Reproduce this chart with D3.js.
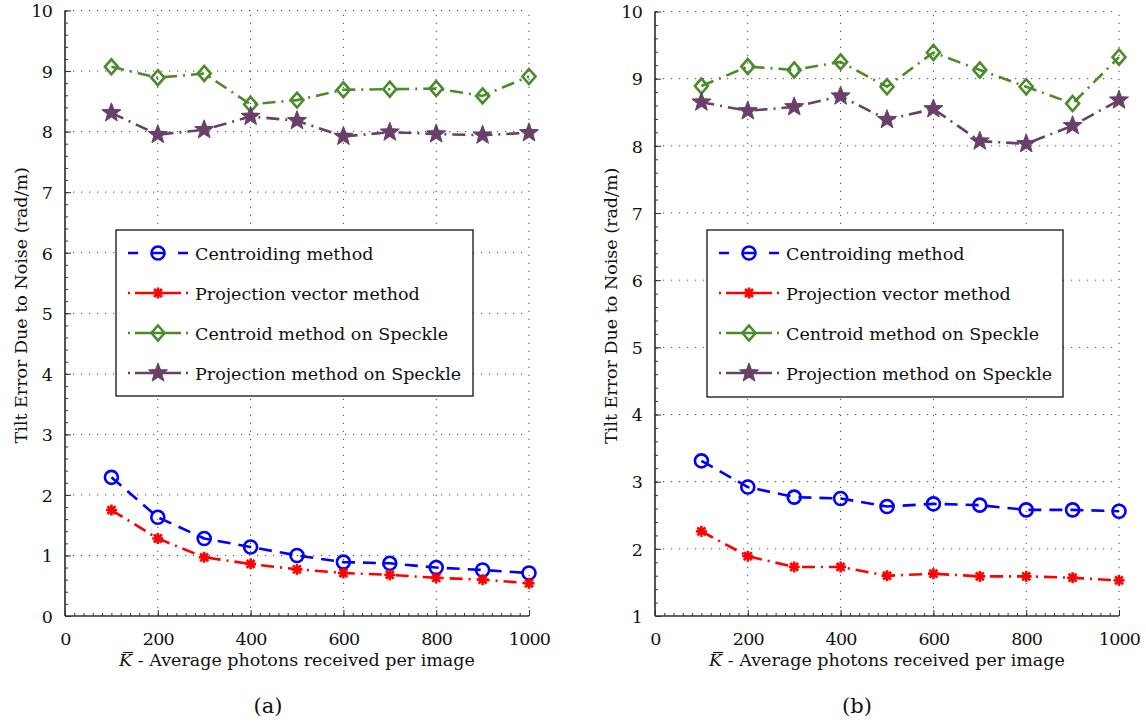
<!DOCTYPE html>
<html>
<head>
<meta charset="utf-8">
<script src="https://cdn.jsdelivr.net/npm/d3@7"></script>
<style>
  html, body { margin: 0; padding: 0; background: #fff; }
  svg { display: block; }
</style>
</head>
<body>
<svg id="chart" width="1146" height="727"></svg>
<script>
// Average photons received per image (x values shared by every series)
const photons = [100, 200, 300, 400, 500, 600, 700, 800, 900, 1000];
const xTicks = [0, 200, 400, 600, 800, 1000];

const seriesNames = [
  "Centroiding method",
  "Projection vector method",
  "Centroid method on Speckle",
  "Projection method on Speckle"
];

// Panel (a)
const centroidA          = [2.29, 1.63, 1.28, 1.14, 1.00, 0.89, 0.87, 0.80, 0.76, 0.71];
const projectionA        = [1.75, 1.28, 0.97, 0.86, 0.77, 0.71, 0.68, 0.63, 0.60, 0.54];
const centroidSpeckleA   = [9.07, 8.89, 8.96, 8.45, 8.52, 8.69, 8.70, 8.71, 8.59, 8.91];
const projectionSpeckleA = [8.31, 7.95, 8.03, 8.25, 8.18, 7.92, 7.99, 7.96, 7.94, 7.98];
const yTicksA = [0, 1, 2, 3, 4, 5, 6, 7, 8, 9, 10];

// Panel (b)
const centroidB          = [3.31, 2.92, 2.77, 2.75, 2.63, 2.67, 2.65, 2.58, 2.58, 2.56];
const projectionB        = [2.26, 1.89, 1.73, 1.73, 1.60, 1.63, 1.59, 1.59, 1.57, 1.53];
const centroidSpeckleB   = [8.89, 9.18, 9.13, 9.25, 8.88, 9.39, 9.13, 8.88, 8.63, 9.32];
const projectionSpeckleB = [8.65, 8.52, 8.58, 8.74, 8.39, 8.55, 8.07, 8.03, 8.30, 8.68];
const yTicksB = [1, 2, 3, 4, 5, 6, 7, 8, 9, 10];

const xTitle = "K - Average photons received per image";
const yTitle = "Tilt Error Due to Noise (rad/m)";

const FONT = '"DejaVu Serif", serif';

// Line / marker styling for the four series
const styles = [
  { color: "#0000ff", dash: "13,8",     marker: "circle",   legendDash: "10,14,12,14,10" },
  { color: "#ff0000", dash: "13,6,2,6", marker: "asterisk", legendDash: "2,5,46,5,2" },
  { color: "#4b8b2b", dash: "13,6,2,6", marker: "diamond",  legendDash: "2,5,46,5,2" },
  { color: "#684068", dash: "13,6,2,6", marker: "star",     legendDash: "2,5,46,5,2" }
];

const panels = [
  {
    caption: "(a)", left: 65, right: 529, top: 10.5, bottom: 616,
    yDomain: [0, 10], yTicks: yTicksA,
    series: [centroidA, projectionA, centroidSpeckleA, projectionSpeckleA],
    legend: { x: 116, y: 230, w: 357, h: 166 }, captionX: 268
  },
  {
    caption: "(b)", left: 655, right: 1119, top: 11.5, bottom: 616,
    yDomain: [1, 10], yTicks: yTicksB,
    series: [centroidB, projectionB, centroidSpeckleB, projectionSpeckleB],
    legend: { x: 707, y: 230, w: 356, h: 167 }, captionX: 857
  }
];

const svg = d3.select("#chart");
const axisColor = "#333";
const textColor = "#111";

function drawMarker(g, type, color) {
  if (type === "circle") {
    g.append("circle").attr("r", 6.5)
      .attr("fill", "none").attr("stroke", color).attr("stroke-width", 2.6);
  } else if (type === "asterisk") {
    const r = 5.5;
    [[r, 0], [0, r], [r * 0.72, r * 0.72], [r * 0.72, -r * 0.72]].forEach(([dx, dy]) => {
      g.append("line").attr("x1", -dx).attr("y1", -dy).attr("x2", dx).attr("y2", dy)
        .attr("stroke", color).attr("stroke-width", 2.6);
    });
    g.append("circle").attr("r", 3).attr("fill", color);
  } else if (type === "diamond") {
    const w = 6.5, h = 7.5;
    g.append("path").attr("d", `M0,${-h}L${w},0L0,${h}L${-w},0Z`)
      .attr("fill", "none").attr("stroke", color).attr("stroke-width", 2.6)
      .attr("stroke-linejoin", "miter");
  } else if (type === "star") {
    const outer = 10, inner = 4.2;
    const pts = d3.range(10).map(i => {
      const a = -Math.PI / 2 + i * Math.PI / 5;
      const r = i % 2 === 0 ? outer : inner;
      return [r * Math.cos(a), r * Math.sin(a)];
    });
    g.append("path").attr("d", d3.line()(pts) + "Z")
      .attr("fill", color).attr("stroke", color).attr("stroke-width", 1)
      .attr("stroke-linejoin", "round");
  }
}

panels.forEach(p => {
  const x = d3.scaleLinear().domain([0, 1000]).range([p.left, p.right]);
  const y = d3.scaleLinear().domain(p.yDomain).range([p.bottom, p.top]);
  const g = svg.append("g");

  // dotted grid at the major ticks
  const grid = g.append("g").attr("stroke", "#444").attr("stroke-width", 1)
    .attr("stroke-dasharray", "1.2,6.8");
  p.yTicks.filter(t => t !== p.yDomain[0]).forEach(t => {
    grid.append("line").attr("x1", p.left).attr("x2", p.right)
      .attr("y1", y(t)).attr("y2", y(t));
  });
  xTicks.filter(t => t !== 0).forEach(t => {
    grid.append("line").attr("x1", x(t)).attr("x2", x(t))
      .attr("y1", p.bottom).attr("y2", p.top);
  });

  // y axis with inward ticks and minor ticks
  const yAxis = d3.axisLeft(y).tickValues(p.yTicks).tickSize(-6).tickPadding(13)
    .tickFormat(d3.format("d"));
  const ya = g.append("g").attr("transform", `translate(${p.left},0)`).call(yAxis);
  const yMinor = d3.range(p.yDomain[0], p.yDomain[1] + 1e-9, 0.2);
  const yMinorAxis = d3.axisLeft(y).tickValues(yMinor).tickSize(-3).tickFormat("");
  const yma = g.append("g").attr("transform", `translate(${p.left},0)`).call(yMinorAxis);

  // x axis with inward ticks and minor ticks
  const xAxis = d3.axisBottom(x).tickValues(xTicks).tickSize(-6).tickPadding(16)
    .tickFormat(d3.format("d"));
  const xa = g.append("g").attr("transform", `translate(0,${p.bottom})`).call(xAxis);
  const xMinor = d3.range(0, 1001, 20);
  const xMinorAxis = d3.axisBottom(x).tickValues(xMinor).tickSize(-3).tickFormat("");
  const xma = g.append("g").attr("transform", `translate(0,${p.bottom})`).call(xMinorAxis);

  [ya, yma, xa, xma].forEach(a => {
    a.attr("font-family", null).attr("font-size", null);
    a.select(".domain").attr("stroke", axisColor).attr("stroke-width", 1.2)
      .attr("d", a === ya || a === yma
        ? `M0,${p.bottom}V${p.top}` : `M${p.left},0H${p.right}`);
    a.selectAll(".tick line").attr("stroke", axisColor).attr("stroke-width", 1);
    a.selectAll(".tick text").attr("fill", textColor)
      .style("font-family", FONT).style("font-size", "17.5px")
      .style("letter-spacing", "-0.8px");
  });
  ya.selectAll(".tick text").attr("dy", "0.36em");
  xa.selectAll(".tick text").attr("dy", "0.72em");

  // series lines and markers
  p.series.forEach((vals, i) => {
    const s = styles[i];
    const pts = photons.map((k, j) => [x(k), y(vals[j])]);
    g.append("path").attr("d", d3.line()(pts)).attr("fill", "none")
      .attr("stroke", s.color).attr("stroke-width", 2.6)
      .attr("stroke-dasharray", s.dash).attr("stroke-linejoin", "round");
    pts.forEach(([px, py]) => {
      const mg = g.append("g").attr("transform", `translate(${px},${py})`);
      drawMarker(mg, s.marker, s.color);
    });
  });

  // legend
  const L = p.legend;
  const lg = g.append("g").attr("transform", `translate(${L.x},${L.y})`);
  lg.append("rect").attr("width", L.w).attr("height", L.h)
    .attr("fill", "#fff").attr("stroke", "#111").attr("stroke-width", 1.3);
  seriesNames.forEach((name, i) => {
    const s = styles[i];
    const cy = 23 + i * 40;
    lg.append("line").attr("x1", 12).attr("x2", 72).attr("y1", cy).attr("y2", cy)
      .attr("stroke", s.color).attr("stroke-width", 2.6)
      .attr("stroke-dasharray", s.legendDash);
    drawMarker(lg.append("g").attr("transform", `translate(42,${cy})`), s.marker, s.color);
    lg.append("text").attr("x", 79).attr("y", cy + 6.5).text(name)
      .attr("fill", textColor).style("font-family", FONT)
      .style("font-size", "17.5px");
  });

  // x axis title with the barred italic K
  const cx = (p.left + p.right) / 2;
  const xt = g.append("text").attr("x", cx).attr("y", 666)
    .attr("text-anchor", "middle").attr("fill", textColor)
    .style("font-family", FONT).style("font-size", "17.5px");
  xt.append("tspan").style("font-style", "italic").text(xTitle.charAt(0));
  xt.append("tspan").text(xTitle.slice(1));
  const kBox = xt.node().getExtentOfChar(0);
  g.append("line")
    .attr("x1", kBox.x + 4).attr("x2", kBox.x + kBox.width + 1)
    .attr("y1", kBox.y + 2.5).attr("y2", kBox.y + 2.5)
    .attr("stroke", textColor).attr("stroke-width", 1.1);

  // y axis title
  g.append("text")
    .attr("transform", `translate(${p.left - 38},${(p.top + p.bottom) / 2 - 8}) rotate(-90)`)
    .attr("text-anchor", "middle").attr("fill", textColor)
    .style("font-family", FONT).style("font-size", "17.5px")
    .text(yTitle);

  // subfigure caption
  g.append("text").attr("x", p.captionX).attr("y", 713).attr("text-anchor", "middle")
    .attr("fill", textColor).style("font-family", FONT)
    .style("font-size", "21px").text(p.caption);
});
</script>
</body>
</html>
